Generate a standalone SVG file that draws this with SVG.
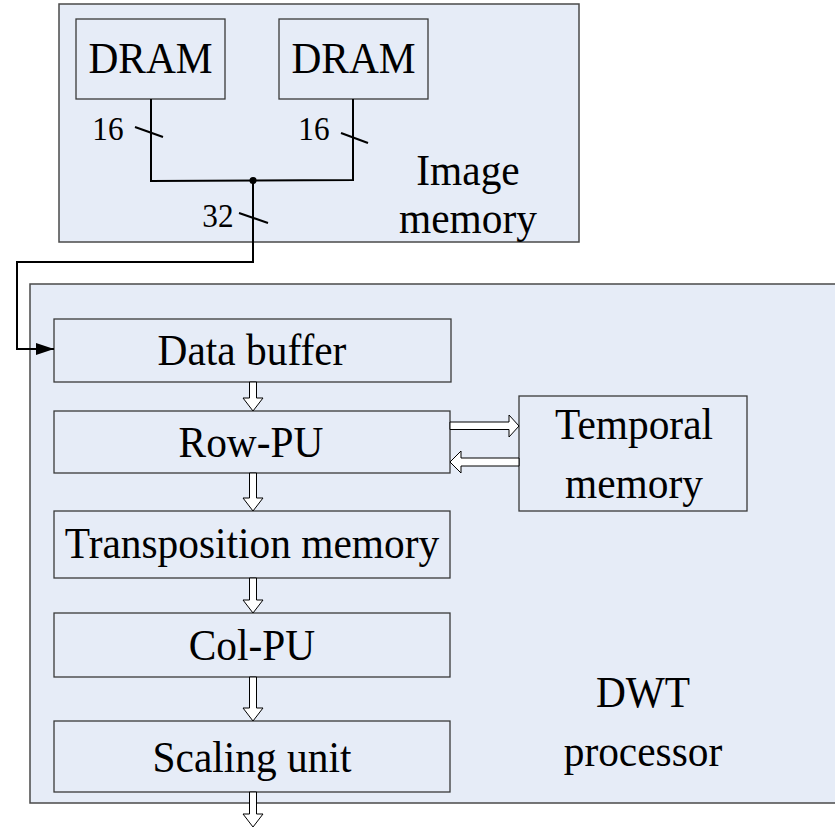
<svg xmlns="http://www.w3.org/2000/svg" width="835" height="828" viewBox="0 0 835 828">
<defs>
<style>
.bg{fill:#e6ecf7;stroke:#4a4a4a;stroke-width:1.5}
.box{fill:#e6ecf7;stroke:#3a3a3a;stroke-width:1.3}
text{font-family:'Liberation Serif','Times New Roman',Times,'DejaVu Serif',serif}
.t{font-size:45px;fill:#000;text-anchor:middle}
.n{font-size:34px;fill:#000;text-anchor:middle}
.w{fill:none;stroke:#000;stroke-width:2}
.ha{fill:#fff;stroke:#000;stroke-width:1}
</style>
<marker id="ah" markerWidth="18" markerHeight="12" refX="18" refY="6" orient="auto" markerUnits="userSpaceOnUse">
<path d="M0,0 L18,6 L0,12 Z" fill="#000"/>
</marker>
</defs>
<rect width="835" height="828" fill="#fff"/>
<g id="image-memory">
<rect class="bg" x="59" y="4" width="520" height="238"/>
<text class="t" transform="translate(468,185) scale(0.92,1)">Image</text>
<text class="t" transform="translate(468,233) scale(0.92,1)">memory</text>
</g>
<g id="dram1">
<rect class="box" x="76" y="19" width="149" height="80"/>
<text class="t" transform="translate(150.5,73) scale(0.92,1)">DRAM</text>
</g>
<g id="dram2">
<rect class="box" x="279" y="19" width="149" height="80"/>
<text class="t" transform="translate(353.5,73) scale(0.92,1)">DRAM</text>
</g>

<g id="dwt-processor">
<rect class="bg" x="30" y="284" width="810" height="519"/>
<text class="t" transform="translate(643,707) scale(0.92,1)">DWT</text>
<text class="t" transform="translate(643,766) scale(0.92,1)">processor</text>
</g>
<g id="data-buffer">
<rect class="box" x="54" y="319" width="397" height="63"/>
<text class="t" transform="translate(252,365) scale(0.92,1)">Data buffer</text>
</g>
<g id="row-pu">
<rect class="box" x="54" y="411" width="396" height="62"/>
<text class="t" transform="translate(251,457) scale(0.92,1)">Row-PU</text>
</g>
<g id="transposition-memory">
<rect class="box" x="54" y="511" width="396" height="67"/>
<text class="t" transform="translate(252,558) scale(0.92,1)">Transposition memory</text>
</g>
<g id="col-pu">
<rect class="box" x="54" y="613" width="396" height="64"/>
<text class="t" transform="translate(252,660) scale(0.92,1)">Col-PU</text>
</g>
<g id="scaling-unit">
<rect class="box" x="54" y="721" width="396" height="71"/>
<text class="t" transform="translate(252,772) scale(0.92,1)">Scaling unit</text>
</g>
<g id="temporal-memory">
<rect class="box" x="519" y="396" width="228" height="115"/>
<text class="t" transform="translate(634,439) scale(0.92,1)">Temporal</text>
<text class="t" transform="translate(634,498) scale(0.92,1)">memory</text>
</g>

<g id="connectors">
<polyline class="w" points="151,99 151,181 353,180 353,99"/>
<circle cx="253" cy="180.5" r="3.5" fill="#000"/>
<polyline class="w" points="253,180 253,262 17,262 17,349 54,349" marker-end="url(#ah)"/>
<line class="w" x1="135" y1="127" x2="163" y2="137"/>
<line class="w" x1="341" y1="133" x2="368" y2="143"/>
<line class="w" x1="239" y1="213" x2="268" y2="223"/>
<text class="n" transform="translate(108,140) scale(0.92,1)">16</text>
<text class="n" transform="translate(314,140) scale(0.92,1)">16</text>
<text class="n" transform="translate(218,227) scale(0.92,1)">32</text>

<polygon class="ha" points="249.5,382 256.5,382 256.5,398 263,398 253,411 243,398 249.5,398"/>
<polygon class="ha" points="249.5,473 256.5,473 256.5,498 263,498 253,511 243,498 249.5,498"/>
<polygon class="ha" points="249.5,578 256.5,578 256.5,600 263,600 253,613 243,600 249.5,600"/>
<polygon class="ha" points="249.5,677 256.5,677 256.5,708 263,708 253,721 243,708 249.5,708"/>
<polygon class="ha" points="249.5,792 256.5,792 256.5,814 263,814 253,827 243,814 249.5,814"/>
<polygon class="ha" points="450,422 509,422 509,415 519,426 509,437 509,429.5 450,429.5"/>
<polygon class="ha" points="519,458 461,458 461,451 450,462 461,473 461,466 519,466"/>
</g>
</svg>
